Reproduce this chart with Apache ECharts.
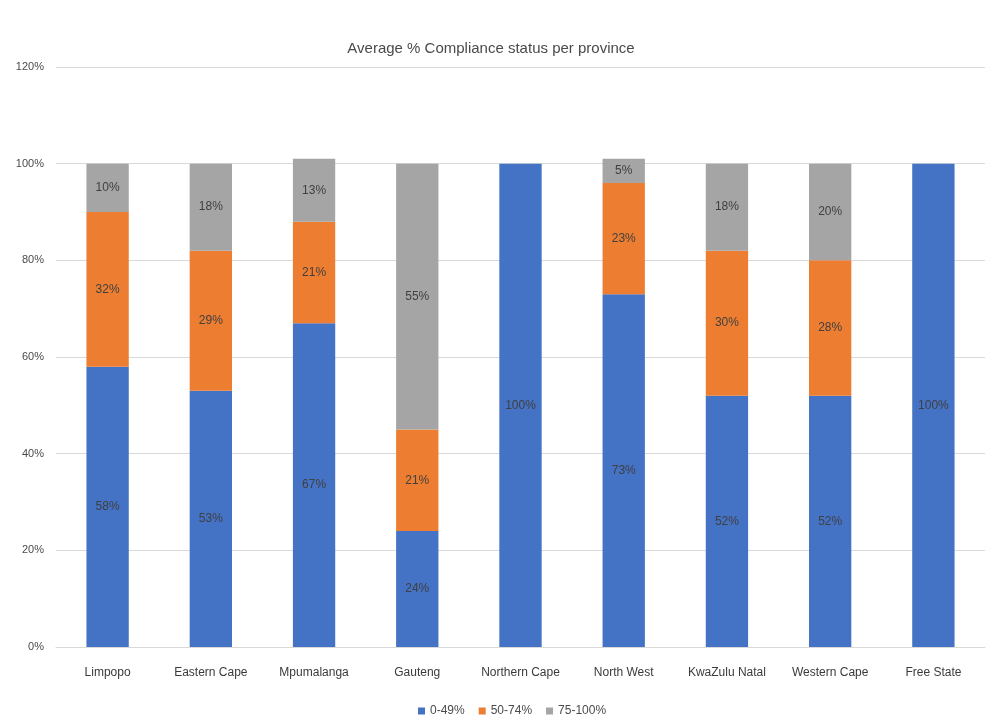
<!DOCTYPE html>
<html>
<head>
<meta charset="utf-8">
<script src="https://cdn.jsdelivr.net/npm/echarts@6/dist/echarts.min.js"></script>
<style>
  html, body { margin: 0; padding: 0; background: #ffffff; }
  #chart { width: 988px; height: 728px; }
</style>
</head>
<body>
<div id="chart"></div>
<script>
// Provinces on the category axis
const provinces = ['Limpopo', 'Eastern Cape', 'Mpumalanga', 'Gauteng', 'Northern Cape',
  'North West', 'KwaZulu Natal', 'Western Cape', 'Free State'];

// Average % compliance per province, split by score band
const band0to49 = [58, 53, 67, 24, 100, 73, 52, 52, 100];
const band50to74 = [32, 29, 21, 21, 0, 23, 30, 28, 0];
const band75to100 = [10, 18, 13, 55, 0, 5, 18, 20, 0];

const seriesNames = ['0-49%', '50-74%', '75-100%'];
const yTicks = [0, 20, 40, 60, 80, 100, 120];

const FONT = '"Liberation Sans", "Open Sans", sans-serif';
const colors = ['#4472C4', '#ED7D31', '#A5A5A5'];

function makeSeries(name, values, color) {
  return {
    name: name,
    type: 'bar',
    stack: 'total',
    barWidth: '41%',
    itemStyle: { color: color },
    data: values.map(v => (v === 0 ? null : v)),
    label: {
      show: true,
      position: 'inside',
      formatter: p => p.value + '%',
      color: '#404040',
      fontFamily: FONT,
      fontSize: 12
    }
  };
}

const chart = echarts.init(document.getElementById('chart'), null, { renderer: 'canvas' });
chart.setOption({
  animation: false,
  backgroundColor: '#ffffff',
  color: colors,
  title: {
    text: 'Average % Compliance status per province',
    left: 486,
    textAlign: 'center',
    top: 36,
    textStyle: { fontFamily: FONT, fontSize: 15, fontWeight: 'normal', color: '#4a4a4a' }
  },
  legend: {
    bottom: 6,
    left: 413,
    itemWidth: 7,
    itemHeight: 7,
    itemGap: 14,
    icon: 'rect',
    textStyle: { fontFamily: FONT, fontSize: 12, color: '#4a4a4a' },
    data: seriesNames
  },
  grid: { left: 56, right: 3, top: 67, bottom: 81, containLabel: false },
  xAxis: {
    type: 'category',
    data: provinces,
    axisLine: { lineStyle: { color: '#D9D9D9' } },
    axisTick: { show: false },
    axisLabel: { fontFamily: FONT, fontSize: 12, color: '#3a3a3a', margin: 20, interval: 0 }
  },
  yAxis: {
    type: 'value',
    min: yTicks[0],
    max: yTicks[yTicks.length - 1],
    interval: yTicks[1] - yTicks[0],
    axisLine: { show: false },
    axisTick: { show: false },
    splitLine: { lineStyle: { color: '#D9D9D9' } },
    axisLabel: { formatter: '{value}%', fontFamily: FONT, fontSize: 11, color: '#4a4a4a', margin: 12 }
  },
  series: [
    makeSeries(seriesNames[0], band0to49, colors[0]),
    makeSeries(seriesNames[1], band50to74, colors[1]),
    makeSeries(seriesNames[2], band75to100, colors[2])
  ]
});
</script>
</body>
</html>
